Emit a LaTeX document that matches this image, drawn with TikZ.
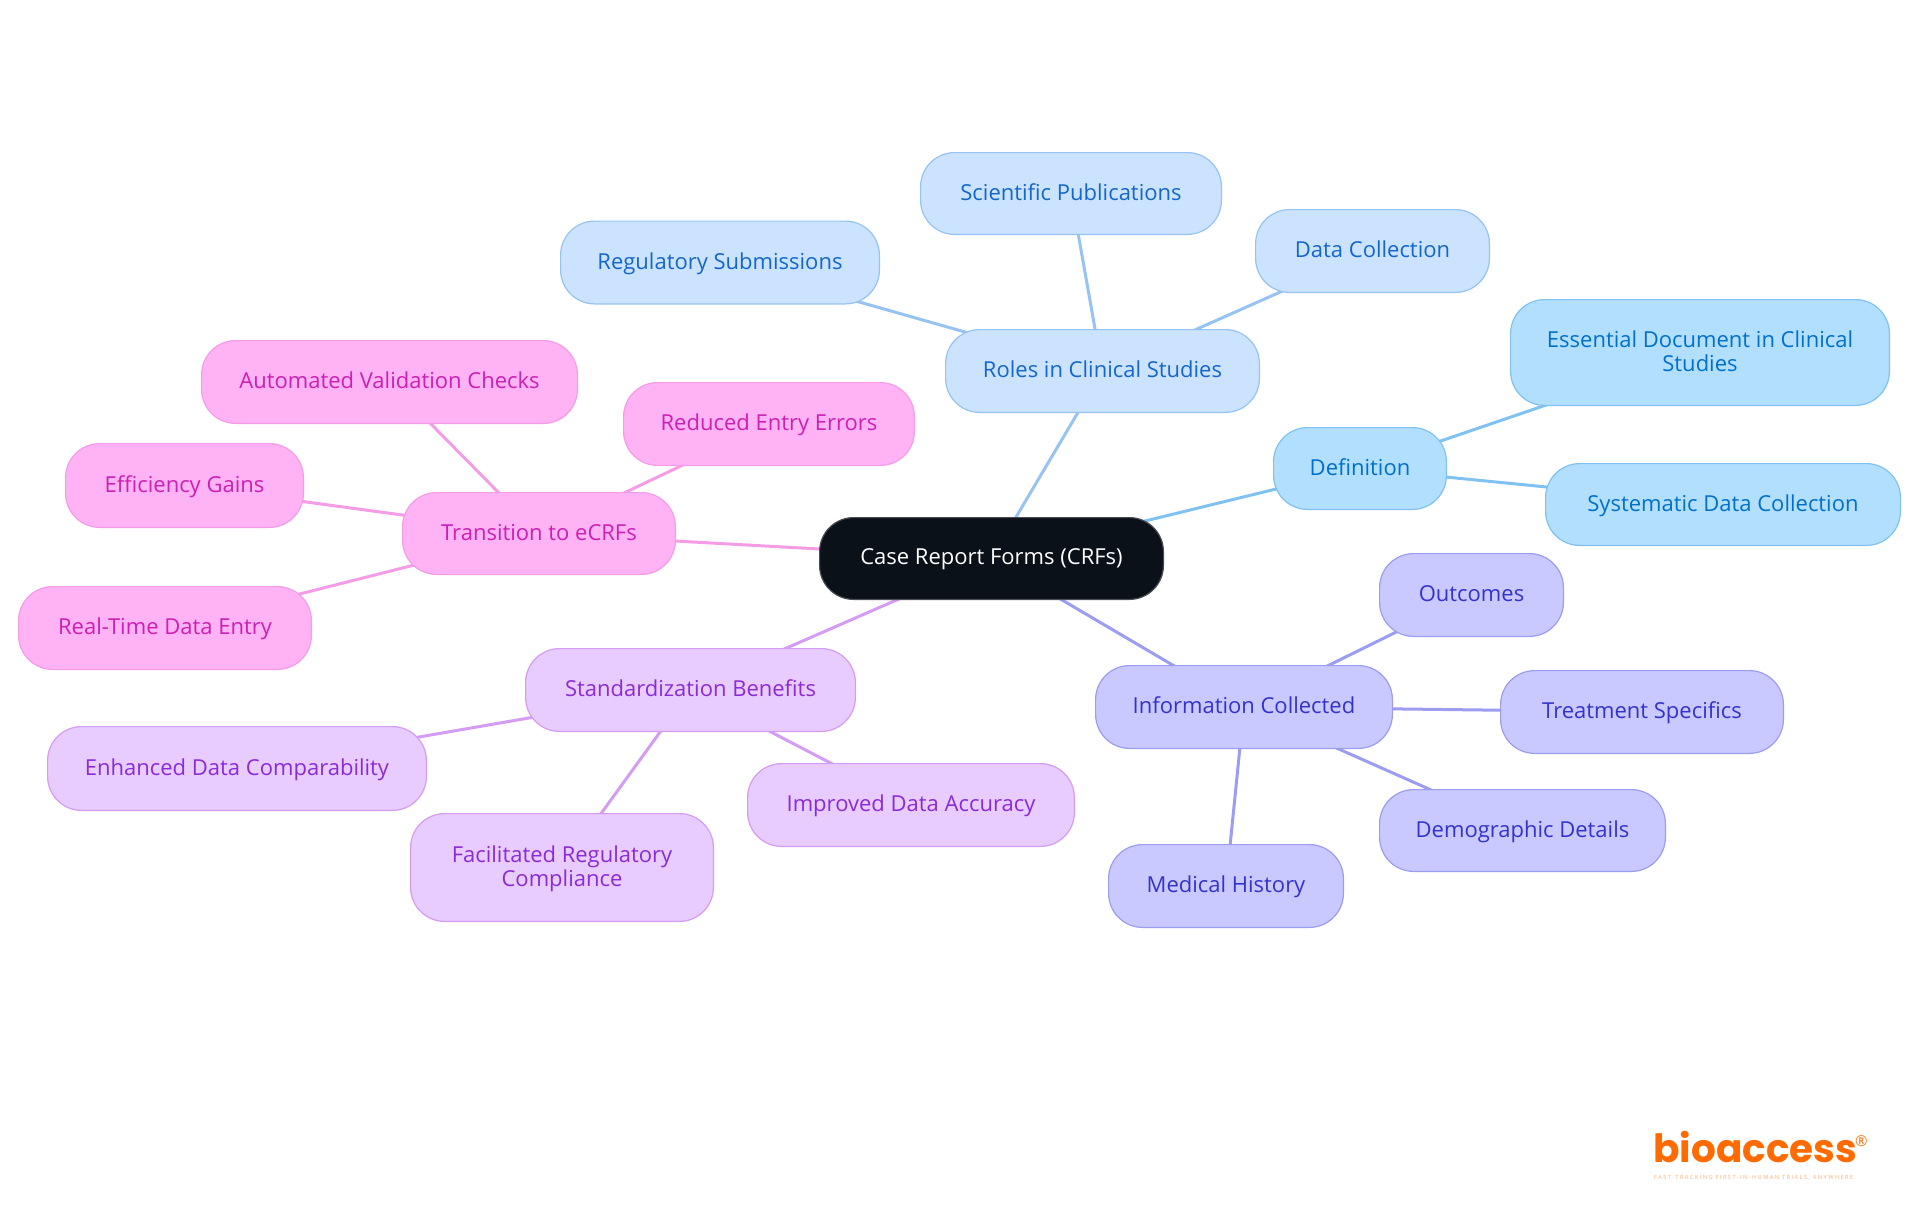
\documentclass[tikz,border=0pt]{standalone}
\usepackage{fontspec}
\setmainfont{Open Sans}
\newfontfamily\logofont{Poppins}[UprightFont=* Bold]
\newfontfamily\tagfont{Open Sans}[LetterSpace=25]
\usetikzlibrary{backgrounds}
\definecolor{rootfill}{HTML}{0B1119}
\definecolor{deffill}{HTML}{B3DFFF}\definecolor{defline}{HTML}{7FC2F2}\definecolor{deftext}{HTML}{0070C9}
\definecolor{rolefill}{HTML}{CCE3FF}\definecolor{roleline}{HTML}{96C3F2}\definecolor{roletext}{HTML}{1466CC}
\definecolor{infofill}{HTML}{C9C9FF}\definecolor{infoline}{HTML}{9C9CF0}\definecolor{infotext}{HTML}{3333CC}
\definecolor{stdfill}{HTML}{E8CCFF}\definecolor{stdline}{HTML}{D49CF2}\definecolor{stdtext}{HTML}{8A2BD6}
\definecolor{trfill}{HTML}{FFB3F5}\definecolor{trline}{HTML}{F59CE6}\definecolor{trtext}{HTML}{CC1FB3}
\definecolor{logoorange}{HTML}{FF6B00}
\newcommand{\twolines}[3]{\raisebox{#1}[0pt][0pt]{\begin{tabular}{@{}c@{}}#2\\#3\end{tabular}}}
\tikzset{
  x=1pt,y=-1pt,
  base/.style={rectangle,rounded corners=34pt,inner sep=0pt,line width=1.2pt,align=center,font=\fontsize{22}{24.5}\selectfont},
  one/.style={text height=18.6pt,text depth=5pt},
  sz/.style 2 args={minimum width=#1pt-1.2pt,minimum height=#2pt-1.2pt},
  rootbox/.style={base,text height=16pt,text depth=5pt,fill=rootfill,draw=rootfill!75!white,text=white},
  defbox/.style={base,fill=deffill,draw=defline,text=deftext},
  rolebox/.style={base,fill=rolefill,draw=roleline,text=roletext},
  infobox/.style={base,fill=infofill,draw=infoline,text=infotext},
  stdbox/.style={base,fill=stdfill,draw=stdline,text=stdtext},
  trbox/.style={base,fill=trfill,draw=trline,text=trtext},
  defedge/.style={draw=defline,line width=3pt},
  roleedge/.style={draw=roleline,line width=3pt},
  infoedge/.style={draw=infoline,line width=3pt},
  stdedge/.style={draw=stdline,line width=3pt},
  tredge/.style={draw=trline,line width=3pt},
}
\begin{document}
\begin{tikzpicture}
\useasboundingbox (0,0) rectangle (1920,1215);
\node[rootbox,sz={345}{83}] (root) at (991.5,558.5) {Case Report Forms (CRFs)};
\node[defbox,one,sz={174}{83}] (def) at (1360,468.5) {Definition};
\node[defbox,sz={380}{107}] (ess) at (1700,352.5) {\twolines{-7.5pt}{Essential Document in Clinical}{Studies}};
\node[defbox,one,sz={356}{83}] (sys) at (1723,504.5) {Systematic Data Collection};
\node[rolebox,one,sz={315}{84}] (roles) at (1102.5,371) {Roles in Clinical Studies};
\node[rolebox,one,sz={235}{84}] (data) at (1372.5,251) {Data Collection};
\node[rolebox,one,sz={302}{83}] (sci) at (1071,193.5) {Scientific Publications};
\node[rolebox,one,sz={320}{84}] (reg) at (720,262.5) {Regulatory Submissions};
\node[infobox,one,sz={298}{84}] (info) at (1244,707) {Information Collected};
\node[infobox,one,sz={185}{84}] (out) at (1471.5,595) {Outcomes};
\node[infobox,one,sz={284}{84}] (treat) at (1642,712) {Treatment Specifics};
\node[infobox,one,sz={287}{83}] (demo) at (1522.5,830.5) {Demographic Details};
\node[infobox,one,sz={236}{84}] (med) at (1226,886) {Medical History};
\node[stdbox,one,sz={331}{84}] (std) at (690.5,690) {Standardization Benefits};
\node[stdbox,one,sz={380}{85}] (enh) at (237,768.5) {Enhanced Data Comparability};
\node[stdbox,sz={304}{109}] (fac) at (562,867.5) {\twolines{-7.5pt}{Facilitated Regulatory}{Compliance}};
\node[stdbox,one,sz={328}{84}] (imp) at (911,805) {Improved Data Accuracy};
\node[trbox,one,sz={274}{83}] (tr) at (539,533.5) {Transition to eCRFs};
\node[trbox,one,sz={292}{84}] (red) at (769,424) {Reduced Entry Errors};
\node[trbox,one,sz={377}{84}] (auto) at (389.5,382) {Automated Validation Checks};
\node[trbox,one,sz={239}{85}] (eff) at (184.5,485.5) {Efficiency Gains};
\node[trbox,one,sz={294}{84}] (real) at (165,628) {Real-Time Data Entry};
\node[anchor=base west,inner sep=0pt,text=logoorange,font=\logofont\fontsize{39}{39}\selectfont] (logo) at (1653,1162) {bioaccess};
\node[anchor=base west,inner sep=0pt,text=logoorange,font=\fontsize{15}{15}\selectfont] (regmark) at (1855,1146) {®};
\node[anchor=base west,inner sep=0pt,text=logoorange!55!white,font=\tagfont\fontsize{5.7}{6}\selectfont] (tag) at (1654,1179) {FAST-TRACKING FIRST-IN-HUMAN TRIALS, ANYWHERE};
\begin{scope}[on background layer]
\draw[defedge] (root.center) -- (def.center);
\draw[defedge] (def.center) -- (ess.center);
\draw[defedge] (def.center) -- (sys.center);
\draw[roleedge] (root.center) -- (roles.center);
\draw[roleedge] (roles.center) -- (data.center);
\draw[roleedge] (roles.center) -- (sci.center);
\draw[roleedge] (roles.center) -- (reg.center);
\draw[infoedge] (root.center) -- (info.center);
\draw[infoedge] (info.center) -- (out.center);
\draw[infoedge] (info.center) -- (treat.center);
\draw[infoedge] (info.center) -- (demo.center);
\draw[infoedge] (info.center) -- (med.center);
\draw[stdedge] (root.center) -- (std.center);
\draw[stdedge] (std.center) -- (enh.center);
\draw[stdedge] (std.center) -- (fac.center);
\draw[stdedge] (std.center) -- (imp.center);
\draw[tredge] (root.center) -- (tr.center);
\draw[tredge] (tr.center) -- (red.center);
\draw[tredge] (tr.center) -- (auto.center);
\draw[tredge] (tr.center) -- (eff.center);
\draw[tredge] (tr.center) -- (real.center);
\end{scope}
\end{tikzpicture}
\end{document}
